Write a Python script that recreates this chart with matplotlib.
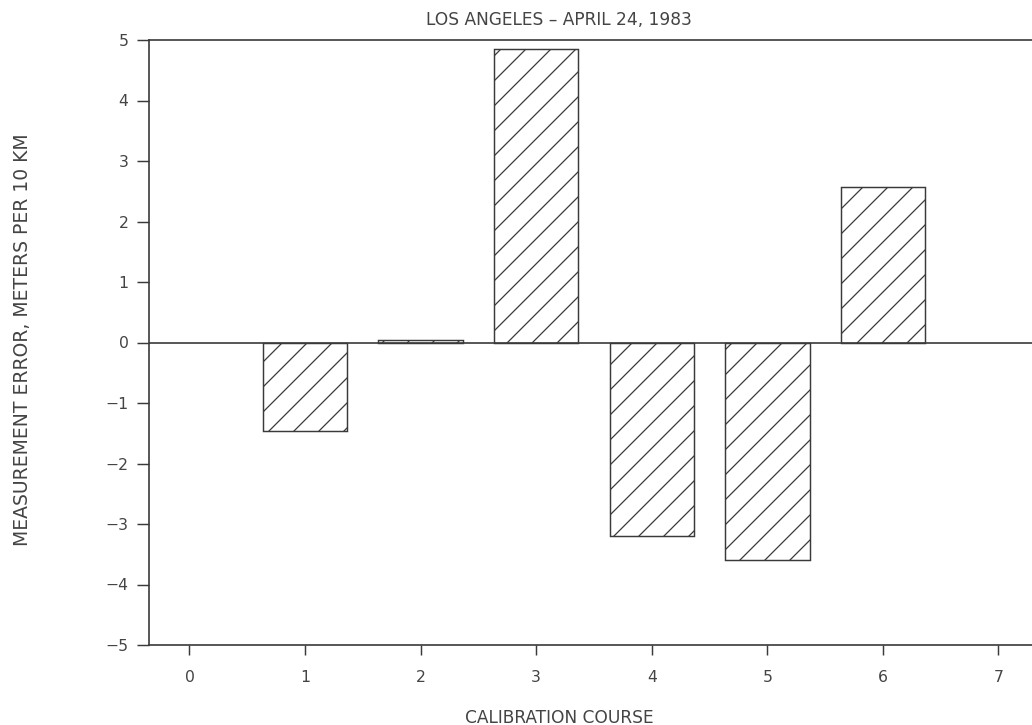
import matplotlib
matplotlib.use("Agg")
import matplotlib.pyplot as plt

courses = [1, 2, 3, 4, 5, 6]
errors = [-1.46, 0.04, 4.85, -3.20, -3.59, 2.57]
xticks = [0, 1, 2, 3, 4, 5, 6, 7]
yticks = [-5, -4, -3, -2, -1, 0, 1, 2, 3, 4, 5]
title = "LOS ANGELES \u2013 APRIL 24, 1983"
xlabel = "CALIBRATION COURSE"
ylabel = "MEASUREMENT ERROR, METERS PER 10 KM"

DPI = 150
plt.rcParams['font.family'] = ['DejaVu Sans']
plt.rcParams['hatch.linewidth'] = 0.6
ink = '#3a3a3a'
txt = '#444444'

fig = plt.figure(figsize=(1032 / DPI, 725 / DPI), dpi=DPI)
ax = fig.add_axes([149 / 1032, 80 / 725, 1 - 149 / 1032, 605 / 725])

ax.bar(courses, errors, width=0.73, facecolor='white', edgecolor=ink,
       linewidth=0.7, hatch='//', zorder=3)
ax.axhline(0, color=ink, linewidth=0.8, zorder=4)

ax.set_xlim(-0.35, 7.29)
ax.set_ylim(-5, 5)
ax.set_xticks(xticks)
ax.set_yticks(yticks)
ax.set_yticklabels([("\u2212" + str(-v)) if v < 0 else str(v) for v in yticks])

for s in ['left', 'bottom', 'top']:
    ax.spines[s].set_color(ink)
    ax.spines[s].set_linewidth(0.8)
ax.spines['right'].set_visible(False)

ax.tick_params(axis='x', direction='out', length=4.8, width=0.7, color=ink,
               labelsize=7.5, labelcolor=txt, pad=7)
ax.tick_params(axis='y', direction='out', length=5.8, width=0.7, color=ink,
               labelsize=7.5, labelcolor=txt, pad=4)

fig.text(559 / 1032, 1 - 20 / 725, title, ha='center', va='center',
         fontsize=8.2, color=txt)
fig.text(559 / 1032, 1 - 718 / 725, xlabel, ha='center', va='center',
         fontsize=8.2, color=txt)
fig.text(23 / 1032, 1 - 340 / 725, ylabel, ha='center', va='center',
         rotation=90, fontsize=9, color=txt)

fig.savefig("out.png", dpi=DPI)
